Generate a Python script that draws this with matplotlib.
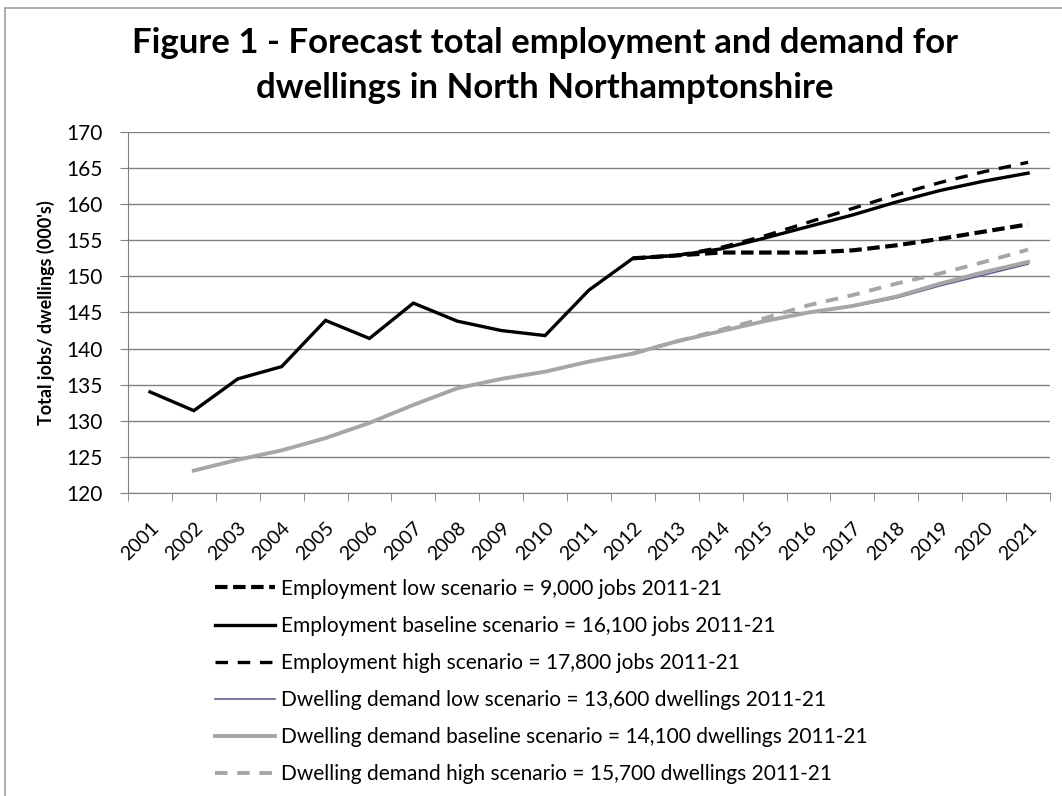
import matplotlib.pyplot as plt
from matplotlib.patches import Rectangle

plt.rcParams['font.family'] = ['Lato', 'DejaVu Sans']
plt.rcParams['lines.scale_dashes'] = False

years = [str(y) for y in range(2001, 2022)]

# employment history (000's jobs), 2001-2012
emp_hist = [134.0, 131.4, 135.8, 137.5, 143.9, 141.4, 146.3, 143.8, 142.5, 141.8, 148.1, 152.5]
# forecast scenarios 2012-2021
emp_low = [152.5, 152.9, 153.3, 153.3, 153.3, 153.6, 154.3, 155.2, 156.2, 157.2]
emp_base = [152.5, 152.9, 153.8, 155.3, 156.9, 158.5, 160.3, 161.9, 163.2, 164.3]
emp_high = [152.5, 152.9, 154.0, 155.6, 157.5, 159.4, 161.3, 163.0, 164.5, 165.8]

# dwelling demand (000's dwellings), 2002-2012
dw_hist = [123.1, 124.6, 125.9, 127.6, 129.7, 132.2, 134.5, 135.8, 136.8, 138.2, 139.3]
dw_low = [139.3, 141.0, 142.4, 143.8, 145.0, 145.8, 147.0, 148.7, 150.2, 151.7]
dw_base = [139.3, 141.0, 142.4, 143.8, 145.0, 145.9, 147.2, 149.0, 150.6, 152.0]
dw_high = [139.3, 141.0, 142.6, 144.2, 146.0, 147.4, 149.0, 150.4, 152.0, 153.7]

fig = plt.figure(figsize=(10.62, 7.96), dpi=100)
fig.patches.append(Rectangle((5 / 1062, -0.1), 1.2, 1 - 8 / 796 + 0.1, transform=fig.transFigure,
                             fill=False, edgecolor='#a0a0a0', lw=1.2))
ax = fig.add_axes([0.1205, 0.3807, 0.8682, 0.4535])

x_hist = list(range(0, 12))
x_dw = list(range(1, 12))
x_fc = list(range(11, 21))

ax.plot(x_fc, emp_low, color='black', lw=3.0, ls=(0, (9, 4)), label='Employment low scenario = 9,000 jobs 2011-21')
ax.plot(x_hist + x_fc[1:], emp_hist + emp_base[1:], color='black', lw=2.4,
        label='Employment baseline scenario = 16,100 jobs 2011-21', solid_joinstyle='miter')
ax.plot(x_fc, emp_high, color='black', lw=2.4, ls=(0, (9, 7)), label='Employment high scenario = 17,800 jobs 2011-21')
ax.plot(x_fc, dw_low, color='#6b5b8c', lw=1.2, label='Dwelling demand low scenario = 13,600 dwellings 2011-21')
ax.plot(x_dw + x_fc[1:], dw_hist + dw_base[1:], color='#a6a6a6', lw=2.8,
        label='Dwelling demand baseline scenario = 14,100 dwellings 2011-21')
ax.plot(x_fc, dw_high, color='#a6a6a6', lw=2.8, ls=(0, (9, 7)), label='Dwelling demand high scenario = 15,700 dwellings 2011-21')

ax.set_xlim(-0.5, 20.5)
ax.set_ylim(120, 170)
ax.set_yticks(range(120, 171, 5))
ax.set_xticks(range(21))
ax.set_xticklabels(years, rotation=45, ha='right', rotation_mode='anchor', fontsize=14)
ax.set_xticks([i - 0.5 for i in range(22)], minor=True)
ax.tick_params(axis='x', which='major', length=0, pad=19)
ax.tick_params(axis='x', which='minor', length=6, color='#808080')
ax.tick_params(axis='y', length=6, color='#808080', labelsize=15, pad=12)
ax.yaxis.grid(True, color='#808080', lw=1)
ax.set_axisbelow(True)
for side in ['top', 'right']:
    ax.spines[side].set_visible(False)
for side in ['left', 'bottom']:
    ax.spines[side].set_color('#808080')
ax.set_ylabel("Total jobs/ dwellings (000's)", fontsize=13, fontweight='bold', labelpad=8)

fig.text(0.513, 0.918, 'Figure 1 - Forecast total employment and demand for\ndwellings in North Northamptonshire',
         ha='center', va='center', fontsize=25, fontweight='bold', linespacing=1.48)

fig.legend(loc='upper left', bbox_to_anchor=(196 / 1062, 1 - 560 / 796), frameon=False,
           fontsize=15, handlelength=2.9, handletextpad=0.3, labelspacing=0.82)

fig.savefig('out.png', dpi=100)
